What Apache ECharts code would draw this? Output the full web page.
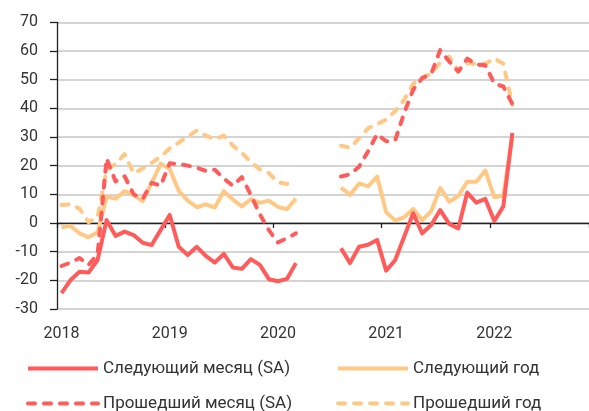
<!DOCTYPE html>
<html>
<head>
<meta charset="utf-8">
<script src="https://cdn.jsdelivr.net/npm/echarts@6/dist/echarts.min.js"></script>
<style>
  html, body { margin: 0; padding: 0; background: #fff; }
  #chart { width: 589px; height: 411px; }
</style>
</head>
<body>
<div id="chart"></div>
<script>
// месяцы: 2018-01 ... 2022-11
let months = []
for (let y = 2018; y <= 2022; y++) {
    for (let m = 1; m <= 12; m++) {
        if (y === 2022 && m > 11) break
        months.push(y + '-' + (m < 10 ? '0' + m : m))
    }
}

let gap4 = [null, null, null, null]
let tail8 = [null, null, null, null, null, null, null, null]

// Следующий месяц (SA)
let nextMonth = [-24.5, -19.9, -17, -17.3, -12.9, 1, -4.5, -3, -4.2, -6.9, -7.7, -2.4, 2.8,
    -8.3, -11.2, -8.3, -11.5, -13.8, -10.8, -15.5, -16, -12.6, -14.6, -19.6, -20.3, -19.5, -14]
    .concat(gap4)
    .concat([-8.8, -14, -8.3, -7.6, -5.9, -16.6, -13, -4.8, 3.4, -3.6, -0.7, 4.5, -0.3, -1.9,
        10.6, 7.1, 8.4, 0.7, 5.8, 31.4])
    .concat(tail8)

// Следующий год
let nextYear = [-1.5, -1, -3.6, -5, -3.2, 9.1, 8.5, 11.1, 9.8, 7.6, 14, 20.7, 18.8,
    11.2, 7.8, 5.5, 6.5, 5.4, 11.1, 8.2, 5.8, 8.3, 7, 7.8, 5.6, 4.8, 8.5]
    .concat(gap4)
    .concat([12.4, 9.8, 13.8, 12.8, 16.2, 3.8, 0.9, 2, 4.9, 1, 4.1, 12.2, 7.4, 9.4,
        14.4, 14.4, 18.3, 9, 9.6, 30])
    .concat(tail8)

// Прошедший месяц (SA)
let pastMonth = [-15, -13.8, -12.2, -14.6, -11, 22.5, 14.5, 16.3, 10, 8.4, 14, 13, 20.8,
    20.6, 20, 19.3, 18.2, 18.6, 15.5, 13, 16, 9.8, 3, -2.5, -6.8, -5.3, -3.6]
    .concat(gap4)
    .concat([16.2, 17, 19.6, 25, 31, 28.5, 28.8, 38.3, 46.5, 50.5, 52, 60.3, 56.3, 52.8,
        57.3, 55.3, 55, 48.6, 47.6, 41.5])
    .concat(tail8)

// Прошедший год
let pastYear = [6.3, 6.5, 5, 0.3, 2, 18.5, 20.5, 24, 17.3, 19, 21, 23.2, 26,
    28, 30.2, 32.2, 30.5, 29.2, 30.5, 27, 24.5, 21.3, 18.7, 17.4, 14.2, 13.6, 14.4]
    .concat(gap4)
    .concat([27, 26.2, 29.5, 33, 34.5, 36, 39, 43, 48.5, 50.8, 52, 56, 58, 53,
        55.7, 55.5, 55.5, 57.4, 55.5, 41.2])
    .concat(tail8)

let names = ['Следующий месяц (SA)', 'Следующий год', 'Прошедший месяц (SA)', 'Прошедший год']
let red = '#ff5b5b'
let orange = '#ffc985'
let font = 'Roboto'

function isJan(idx) {
    return idx % 12 === 0
}

function lineSeries(name, data, color, dashed) {
    return {
        name: name,
        type: 'line',
        data: data,
        symbol: 'none',
        showSymbol: false,
        connectNulls: false,
        animation: false,
        lineStyle: {
            color: color,
            width: 4,
            type: dashed ? [7, 9] : 'solid',
            cap: dashed ? 'round' : 'butt',
            join: 'round'
        },
        itemStyle: { color: color }
    }
}

// легенда в две колонки
function legendCol(left, items) {
    return {
        data: items,
        orient: 'vertical',
        left: left,
        top: 360,
        height: 100,
        padding: 0,
        itemWidth: 70,
        itemHeight: 18,
        itemGap: 18,
        itemStyle: { opacity: 0 },
        lineStyle: { width: 4 },
        textStyle: { fontFamily: font, fontSize: 17, color: '#333' }
    }
}

let myChart = echarts.init(document.getElementById('chart'))
myChart.setOption({
    animation: false,
    grid: { left: 57, right: 0, top: 22.3, bottom: 102, containLabel: false },
    legend: [
        legendCol(26, [names[0], names[2]]),
        legendCol(336, [names[1], names[3]])
    ],
    xAxis: [
        {
            // линия нуля с рисками по годам
            type: 'category',
            data: months,
            boundaryGap: true,
            position: 'bottom',
            axisLine: { onZero: true, lineStyle: { color: '#222', width: 1.3 } },
            axisTick: { show: true, interval: isJan, length: 5, lineStyle: { color: '#222', width: 1.3 } },
            axisLabel: { show: false },
            splitLine: { show: false }
        },
        {
            // подписи лет внизу
            type: 'category',
            data: months,
            boundaryGap: true,
            position: 'bottom',
            axisLine: { show: false, onZero: false },
            axisTick: { show: false },
            axisLabel: {
                interval: isJan,
                formatter: function (v) { return v.slice(0, 4) },
                fontFamily: font,
                fontSize: 16,
                color: '#333',
                margin: 17
            },
            splitLine: { show: false }
        }
    ],
    yAxis: {
        type: 'value',
        min: -30,
        max: 70,
        interval: 10,
        axisLine: { show: true, lineStyle: { color: '#222', width: 1.3 } },
        axisTick: { show: true, length: 7, lineStyle: { color: '#222', width: 1.3 } },
        axisLabel: { fontFamily: font, fontSize: 16, color: '#333', margin: 19 },
        splitLine: { lineStyle: { color: '#c6c6c6', width: 1.5 } }
    },
    series: [
        lineSeries(names[3], pastYear, orange, true),
        lineSeries(names[1], nextYear, orange, false),
        lineSeries(names[2], pastMonth, red, true),
        lineSeries(names[0], nextMonth, red, false)
    ]
})
</script>
</body>
</html>
